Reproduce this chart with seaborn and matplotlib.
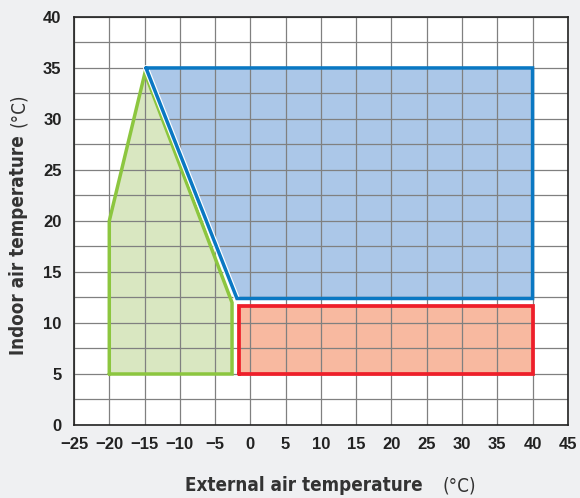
import numpy as np
import matplotlib
matplotlib.use("Agg")
import matplotlib.pyplot as plt
from matplotlib import font_manager
import seaborn as sns

# operating envelope polygons (external temp, indoor temp)
green_x = [-20, -20, -14.95, -2.6, -2.6, -20]
green_y = [5, 20, 34.5, 12, 5, 5]
blue_x = [-14.8, 40, 40, -1.9, -14.8]
blue_y = [35, 35, 12.4, 12.4, 35]
red_x = [-1.6, 40, 40, -1.6, -1.6]
red_y = [5, 5, 11.7, 11.7, 5]

x_ticks = list(range(-25, 50, 5))
y_ticks = list(range(0, 45, 5))

sns.set_theme(style="whitegrid")
plt.rcParams['font.family'] = ['Liberation Sans', 'DejaVu Sans']

# condensed face for the axis titles if one is installed
cond = font_manager.FontProperties(family="DejaVu Sans", stretch="condensed", weight="bold")
use_cond = "Condensed" in font_manager.findfont(cond, fallback_to_default=False)
if use_cond:
    lab_kw = dict(family="DejaVu Sans", stretch="condensed", fontsize=13.5)
else:
    lab_kw = dict(fontsize=13)

fig = plt.figure(figsize=(5.8, 4.98), dpi=100)
fig.patch.set_facecolor("#eff0f2")
ax = fig.add_axes([0.1276, 0.1466, 0.8514, 0.8194])
ax.set_facecolor("white")

ax.fill(blue_x, blue_y, color="#abc7e8", zorder=2)
ax.fill(red_x, red_y, color="#f8b9a0", zorder=2)
ax.fill(green_x, green_y, color="#d9e7c1", zorder=2)

ax.plot(green_x, green_y, color="#8cc63f", lw=2.5, zorder=4, solid_joinstyle="miter")
# white gap between the two diagonal edges
ax.plot(blue_x[3:], blue_y[3:], color="white", lw=4.2, zorder=4.5)
ax.plot(blue_x, blue_y, color="#0a78c3", lw=2.5, zorder=5, solid_joinstyle="miter")
ax.plot(red_x, red_y, color="#ee1f2a", lw=2.7, zorder=5, solid_joinstyle="miter")

ax.set_xlim(-25, 45)
ax.set_ylim(0, 40)
ax.set_xticks(x_ticks)
ax.set_yticks(y_ticks)
ax.set_yticks(np.arange(2.5, 40, 5), minor=True)
ax.grid(True, which="both", color="#808080", lw=0.9, zorder=3)
ax.set_axisbelow(False)
ax.tick_params(axis="both", which="both", direction="out", length=6,
               width=0.9, color="#555555", labelsize=12, pad=3)
for lab in ax.get_xticklabels() + ax.get_yticklabels():
    lab.set_fontweight("bold")
    lab.set_color("#222222")
for s in ax.spines.values():
    s.set_color("#222222")
    s.set_linewidth(1.2)
    s.set_zorder(6)

fig.canvas.draw()
r = fig.canvas.get_renderer()
xl = fig.text(185 / 580, 1 - 491 / 498, "External air temperature", ha="left",
              va="baseline", fontweight="bold", color="#333333", **lab_kw)
bb = xl.get_window_extent(r)
fig.text((bb.x1 + 20) / 580, 1 - 491 / 498, "(°C)", ha="left", va="baseline",
         color="#333333", **lab_kw)
yl = fig.text(28 / 580, 1 - 355 / 498, "Indoor air temperature", ha="left",
              va="bottom", rotation=90, rotation_mode="anchor",
              fontweight="bold", color="#333333", **lab_kw)
bb = yl.get_window_extent(r)
fig.text(28 / 580, (bb.y1 + 8) / 498, "(°C)", ha="left", va="bottom",
         rotation=90, rotation_mode="anchor", color="#333333", **lab_kw)

plt.savefig("out.png", dpi=100, facecolor=fig.get_facecolor())
plt.close()
